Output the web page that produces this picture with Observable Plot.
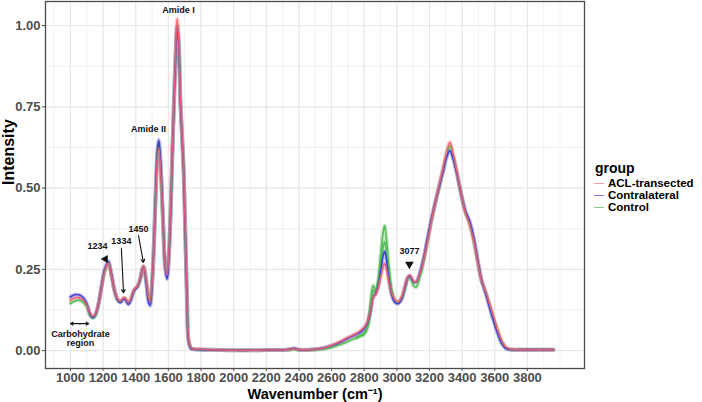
<!DOCTYPE html>
<html>
<head>
<meta charset="utf-8">
<script src="https://cdn.jsdelivr.net/npm/d3@7"></script>
<script src="https://cdn.jsdelivr.net/npm/@observablehq/plot@0.6"></script>
<style>
  html, body { margin: 0; padding: 0; background: #fff; }
  #wrap { position: relative; width: 702px; height: 402px; font-family: "Liberation Sans", Arial, sans-serif; }
  #legend { position: absolute; left: 594px; top: 159px; }
  #legend .title { font-size: 14px; font-weight: bold; color: #000; line-height: 18px; margin-left: 1px; }
  #legend .item { font-size: 11.5px; font-weight: bold; color: #000; line-height: 12px; height: 12px; display: flex; align-items: center; }
  #legend .key { width: 10px; height: 0; border-top: 1.5px solid; margin-right: 4px; }
</style>
</head>
<body>
<div id="wrap"></div>
<script>
// Wavenumber grid (cm^-1)
const wn = [1000,1025,1050,1075,1100,1120,1135,1150,1170,1190,1210,1232,1250,1270,1290,1305,1320,1330,1340,1355,1370,1390,1410,1425,1447,1465,1478,1488,1500,1512,1522,1532,1541,1550,1560,1570,1580,1592,1603,1613,1623,1633,1645,1654,1663,1674,1684,1694,1704,1714,1725,1740,1760,1800,1900,2000,2100,2200,2300,2350,2370,2400,2500,2550,2600,2650,2700,2750,2780,2800,2820,2840,2855,2870,2885,2900,2915,2925,2935,2950,2970,2990,3010,3030,3050,3065,3078,3090,3105,3120,3140,3160,3185,3210,3235,3260,3285,3305,3325,3345,3370,3395,3420,3445,3470,3495,3520,3545,3570,3595,3620,3645,3670,3700,3750,3800,3850,3900,3960];

// ACL-transected
const acl = [0.155,0.162,0.163,0.157,0.140,0.115,0.106,0.110,0.140,0.195,0.245,0.270,0.235,0.185,0.158,0.152,0.160,0.163,0.158,0.148,0.160,0.188,0.198,0.218,0.260,0.215,0.165,0.150,0.210,0.330,0.470,0.590,0.625,0.575,0.480,0.360,0.265,0.232,0.300,0.420,0.590,0.750,0.930,1.020,0.960,0.770,0.660,0.550,0.360,0.170,0.030,0.008,0.005,0.004,0.002,0.001,0.001,0.002,0.002,0.004,0.006,0.003,0.004,0.008,0.016,0.027,0.040,0.052,0.062,0.072,0.088,0.125,0.165,0.172,0.195,0.225,0.255,0.268,0.255,0.215,0.175,0.155,0.150,0.165,0.200,0.225,0.232,0.225,0.212,0.212,0.235,0.270,0.330,0.395,0.455,0.510,0.565,0.610,0.641,0.605,0.545,0.480,0.425,0.390,0.340,0.275,0.215,0.180,0.140,0.100,0.060,0.028,0.010,0.004,0.003,0.003,0.003,0.003,0.003];

// Contralateral
const contra = [0.165,0.172,0.172,0.165,0.145,0.112,0.102,0.108,0.140,0.198,0.250,0.275,0.238,0.185,0.155,0.148,0.156,0.160,0.154,0.142,0.155,0.185,0.196,0.215,0.258,0.205,0.150,0.138,0.205,0.335,0.485,0.610,0.648,0.600,0.495,0.365,0.260,0.220,0.290,0.410,0.580,0.740,0.910,0.995,0.945,0.760,0.655,0.545,0.350,0.160,0.025,0.006,0.004,0.003,0.002,0.001,0.001,0.002,0.002,0.005,0.007,0.003,0.004,0.008,0.015,0.025,0.038,0.050,0.058,0.068,0.085,0.125,0.165,0.175,0.200,0.240,0.290,0.305,0.285,0.225,0.170,0.148,0.145,0.160,0.195,0.222,0.230,0.222,0.210,0.212,0.238,0.275,0.338,0.400,0.455,0.505,0.555,0.595,0.615,0.590,0.540,0.480,0.430,0.400,0.350,0.280,0.215,0.175,0.130,0.088,0.050,0.020,0.006,0.003,0.003,0.003,0.003,0.003,0.003];

// Control
const ctrl = [0.145,0.152,0.155,0.150,0.135,0.108,0.100,0.105,0.138,0.193,0.245,0.268,0.233,0.183,0.155,0.150,0.158,0.161,0.156,0.146,0.158,0.186,0.196,0.216,0.258,0.212,0.160,0.146,0.208,0.332,0.480,0.602,0.640,0.590,0.488,0.362,0.262,0.228,0.296,0.415,0.585,0.745,0.920,1.000,0.950,0.765,0.658,0.548,0.355,0.165,0.028,0.007,0.004,0.003,0.002,0.001,0.001,0.002,0.002,0.003,0.005,0.002,0.003,0.005,0.010,0.018,0.028,0.040,0.048,0.055,0.075,0.130,0.185,0.180,0.200,0.260,0.315,0.335,0.310,0.240,0.175,0.150,0.148,0.160,0.190,0.220,0.228,0.215,0.198,0.196,0.225,0.265,0.330,0.395,0.452,0.505,0.558,0.602,0.630,0.598,0.540,0.478,0.425,0.392,0.342,0.276,0.214,0.178,0.136,0.094,0.055,0.024,0.008,0.003,0.003,0.003,0.003,0.003,0.003];

// Control replicate with the highest CH-stretch band
const wnHi = [2750,2780,2800,2820,2840,2855,2870,2885,2900,2915,2925,2935,2950,2970,2990,3010,3030];
const ctrlHi = [0.038,0.045,0.050,0.070,0.150,0.200,0.185,0.215,0.290,0.360,0.385,0.350,0.260,0.180,0.152,0.148,0.160];

const groups = ["ACL-transected", "Contralateral", "Control"];
const groupColors = ["#f0606a", "#3434e0", "#4cba4c"];
const legendColors = ["#f4a0a0", "#7f7ff2", "#86cf86"];

const xTicks = [1000,1200,1400,1600,1800,2000,2200,2400,2600,2800,3000,3200,3400,3600,3800];
const xGrid = [900,1000,1100,1200,1300,1400,1500,1600,1700,1800,1900,2000,2100,2200,2300,2400,2500,2600,2700,2800,2900,3000,3100,3200,3300,3400,3500,3600,3700,3800,3900,4000];
const yTicks = [0, 0.25, 0.5, 0.75, 1];
const yGrid = [0,0.125,0.25,0.375,0.5,0.625,0.75,0.875,1];

const annoText = ["Amide I", "Amide II", "1234", "1334", "1450", "3077", "Carbohydrate", "region"];
const annoX = [1662, 1478, 1165, 1312, 1417, 3077, 1061, 1061];
const annoY = [1.046, 0.68, 0.32, 0.338, 0.375, 0.305, 0.052, 0.022];

// Build long table
const rows = [];
const series = [["Control", ctrl], ["Contralateral", contra], ["ACL-transected", acl]];
for (const [g, arr] of series) wn.forEach((w, i) => rows.push({wn: w, v: arr[i], group: g, id: g}));
wnHi.forEach((w, i) => rows.unshift({wn: w, v: ctrlHi[i], group: "Control", id: "Control-hi"}));

const annos = annoText.map((t, i) => ({t, x: annoX[i], y: annoY[i]}));

const font = "Liberation Sans, Arial, sans-serif";

const chart = Plot.plot({
  width: 702, height: 402,
  marginLeft: 45, marginRight: 118, marginTop: 1, marginBottom: 34,
  style: {fontFamily: font, background: "white"},
  x: {domain: [847, 4150], label: null},
  y: {domain: [-0.055, 1.074], label: null},
  color: {domain: groups, range: groupColors},
  marks: [
    Plot.gridX(xGrid, {stroke: "#ebebeb", strokeOpacity: 1, strokeWidth: 0.7}),
    Plot.gridY(yGrid, {stroke: "#ebebeb", strokeOpacity: 1, strokeWidth: 0.7}),
    Plot.gridX(xTicks, {stroke: "#e6e6e6", strokeOpacity: 1, strokeWidth: 1}),
    Plot.gridY(yTicks, {stroke: "#e6e6e6", strokeOpacity: 1, strokeWidth: 1}),
    Plot.line(rows, {x: "wn", y: "v", z: "id", stroke: "group", strokeWidth: 4, strokeOpacity: 0.3, curve: "catmull-rom"}),
    Plot.line(rows, {x: "wn", y: "v", z: "id", stroke: "group", strokeWidth: 1.6, strokeOpacity: 0.9, curve: "catmull-rom"}),
    Plot.frame({stroke: "#4a4a4a", strokeWidth: 1.3}),
    Plot.axisX(xTicks, {tickSize: 3, tickPadding: 1, fontSize: 13, fontWeight: "bold", color: "#4d4d4d", tickFormat: d => String(d), label: null}),
    Plot.axisY(yTicks, {tickSize: 3, tickPadding: 2, fontSize: 13, fontWeight: "bold", color: "#4d4d4d", tickFormat: d3.format(".2f"), label: null}),
    Plot.text(["Wavenumber (cm\u207B\u00B9)"], {frameAnchor: "bottom", dy: 26, fontSize: 14.5, fontWeight: "bold", fill: "#000", lineAnchor: "middle"}),
    Plot.text(["Intensity"], {frameAnchor: "left", dx: -37, rotate: -90, fontSize: 16, fontWeight: "bold", fill: "#000", lineAnchor: "middle"}),
    Plot.text(annos, {x: "x", y: "y", text: "t", fontSize: 9, fontWeight: "bold", fill: "#111", lineAnchor: "middle"}),
    Plot.arrow([{x1: 1312, y1: 0.314, x2: 1325, y2: 0.178}, {x1: 1417, y1: 0.354, x2: 1447, y2: 0.271}],
      {x1: "x1", y1: "y1", x2: "x2", y2: "y2", stroke: "#111", strokeWidth: 1.1, headLength: 5}),
    Plot.arrow([{x1: 1055, y1: 0.083, x2: 1000, y2: 0.083}, {x1: 1055, y1: 0.083, x2: 1112, y2: 0.083}],
      {x1: "x1", y1: "y1", x2: "x2", y2: "y2", stroke: "#111", strokeWidth: 1.1, headLength: 4}),
    Plot.dot([{x: 1214, y: 0.282}], {x: "x", y: "y", symbol: "triangle", r: 3, fill: "#111", stroke: null, rotate: 150}),
    Plot.dot([{x: 3077, y: 0.266}], {x: "x", y: "y", symbol: "triangle", r: 3.2, fill: "#111", stroke: null, rotate: 180})
  ]
});

const wrap = document.getElementById("wrap");
wrap.appendChild(chart);

const legend = document.createElement("div");
legend.id = "legend";
const title = document.createElement("div");
title.className = "title";
title.textContent = "group";
legend.appendChild(title);
groups.forEach((g, i) => {
  const item = document.createElement("div");
  item.className = "item";
  const key = document.createElement("span");
  key.className = "key";
  key.style.borderTopColor = legendColors[i];
  const lab = document.createElement("span");
  lab.textContent = g;
  item.appendChild(key);
  item.appendChild(lab);
  legend.appendChild(item);
});
wrap.appendChild(legend);
</script>
</body>
</html>
